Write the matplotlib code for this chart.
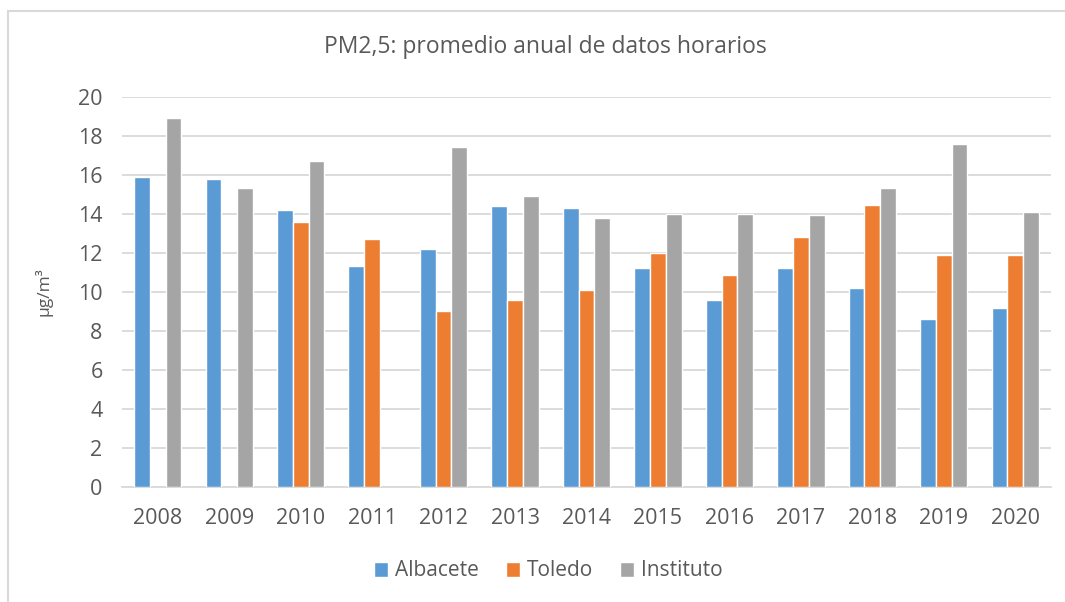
import matplotlib.pyplot as plt
import numpy as np
from matplotlib.lines import Line2D

years = ['2008', '2009', '2010', '2011', '2012', '2013', '2014',
         '2015', '2016', '2017', '2018', '2019', '2020']
albacete = [15.9, 15.8, 14.2, 11.3, 12.2, 14.4, 14.3, 11.2, 9.6, 11.2, 10.2, 8.6, 9.15]
toledo = [np.nan, np.nan, 13.6, 12.7, 9.0, 9.6, 10.1, 12.0, 10.85, 12.8, 14.45, 11.9, 11.9]
instituto = [18.9, 15.3, 16.7, np.nan, 17.4, 14.9, 13.8, 14.0, 14.0, 13.95, 15.3, 17.55, 14.1]

series = [('Albacete', albacete, '#5B9BD5'),
          ('Toledo', toledo, '#ED7D31'),
          ('Instituto', instituto, '#A5A5A5')]

plt.rcParams['font.family'] = ['Open Sans', 'DejaVu Sans']
text_col = '#595959'

W, H = 1065, 602
fig = plt.figure(figsize=(W / 100, H / 100), dpi=100)
ax = fig.add_axes([122 / W, 1 - 486.7 / H, (1051 - 122) / W, (486.7 - 96.7) / H])

# chart frame (top and left edges visible)
fig.add_artist(Line2D([8 / W, 8 / W], [0, 1 - 11 / H], color='#D9D9D9', lw=1.5,
                      transform=fig.transFigure))
fig.add_artist(Line2D([8 / W, 1], [1 - 11 / H, 1 - 11 / H], color='#D9D9D9', lw=1.5,
                      transform=fig.transFigure))

x = np.arange(len(years))
pitch = 0.221
for i, (name, vals, col) in enumerate(series):
    ax.bar(x + (i - 1) * pitch, vals, width=pitch, color=col,
           edgecolor='white', linewidth=1.0, label=name, zorder=3)

ax.set_xlim(-0.5, len(years) - 0.5)
ax.set_ylim(0, 20)
ax.set_yticks(range(0, 21, 2))
ax.set_xticks(x)
ax.set_xticklabels(years)
ax.grid(axis='y', color='#D9D9D9', lw=1.3, zorder=0)
for s in ['top', 'right', 'left']:
    ax.spines[s].set_visible(False)
ax.spines['bottom'].set_color('#D9D9D9')
ax.spines['bottom'].set_linewidth(1.3)
ax.tick_params(length=0, labelsize=15.5, colors=text_col)
ax.tick_params(axis='x', pad=15)
ax.tick_params(axis='y', pad=14)

ax.set_ylabel('µg/m³', fontsize=12.5, color=text_col)
ax.yaxis.set_label_coords(-70 / (1051 - 122), 0.5)

fig.text(545 / W, 1 - 47 / H, 'PM2,5: promedio anual de datos horarios',
         ha='center', va='center', fontsize=16.5, color=text_col)

fig.legend(loc='center', bbox_to_anchor=(548 / W, 1 - 571 / H), ncol=3,
           frameon=False, fontsize=15, labelcolor=text_col,
           handlelength=0.7, handleheight=0.7, handletextpad=0.3, columnspacing=1.3)

fig.savefig('out.png', dpi=100)
